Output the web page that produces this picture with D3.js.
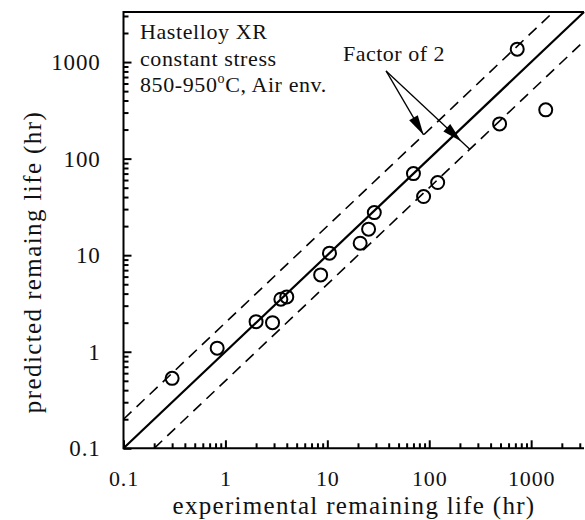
<!DOCTYPE html>
<html>
<head>
<meta charset="utf-8">
<script src="https://cdn.jsdelivr.net/npm/d3@7"></script>
<style>
  body { margin: 0; background: #fff; }
  svg text { font-family: "Liberation Serif", "DejaVu Serif", serif; fill: #111; }
</style>
</head>
<body>
<svg></svg>
<script>
// experimental vs predicted remaining life (hr)
const expLife  = [0.3, 0.83, 2.0, 2.9, 3.5, 4.0, 8.6, 10.5, 21, 25.4, 28.9, 70, 88, 121, 490, 730, 1390]
const predLife = [0.53, 1.09, 2.05, 2.0, 3.5, 3.7, 6.25, 10.5, 13.3, 18.6, 27.6, 70, 40.5, 56.5, 229, 1360, 320]
const majorTicks = [0.1, 1, 10, 100, 1000]
const tickLabels = ["0.1", "1", "10", "100", "1000"]
const domain = [0.1, 3300]
const noteLines = ["Hastelloy XR", "constant stress", "850-950", "C, Air env."]
// factor-of-2 arrows: start point and the two end points (data coords)
const arrowStart = [37.7, 810]
const arrowEnds = [[88, 176], [250, 125]]

const svg = d3.select("svg")
  .attr("width", 585)
  .attr("height", 520)

const x = d3.scaleLog().domain(domain).range([123.5, 584])
const y = d3.scaleLog().domain(domain).range([448.3, 12])

const minor = x.ticks().filter(d => !majorTicks.includes(d))

// minor ticks
svg.append("g")
  .attr("transform", "translate(0, 448.3)")
  .call(d3.axisBottom(x).tickValues(minor).tickSize(-5).tickFormat(""))
svg.append("g")
  .attr("transform", "translate(123.5, 0)")
  .call(d3.axisLeft(y).tickValues(minor).tickSize(-5).tickFormat(""))

const xAxis = svg.append("g")
  .attr("transform", "translate(0, 448.3)")
  .call(d3.axisBottom(x).tickValues(majorTicks).tickSize(-8).tickPadding(22.5)
    .tickFormat((d, i) => tickLabels[i]))
const yAxis = svg.append("g")
  .attr("transform", "translate(123.5, 0)")
  .call(d3.axisLeft(y).tickValues(majorTicks).tickSize(-8).tickPadding(23)
    .tickFormat((d, i) => tickLabels[i]))

svg.selectAll(".domain").remove()
svg.selectAll(".tick line").attr("stroke", "#000").attr("stroke-width", 2)
svg.selectAll(".tick text").attr("font-family", null).attr("fill", "#111")
  .attr("letter-spacing", 0.8)
xAxis.selectAll(".tick text").attr("font-size", 22)
yAxis.selectAll(".tick text").attr("font-size", 23)

// frame: left, bottom, top
svg.append("path")
  .attr("d", `M584,${y.range()[1]}H${x.range()[0]}V${y.range()[0]}H584`)
  .attr("fill", "none")
  .attr("stroke", "#000")
  .attr("stroke-width", 2)

const line = d3.line().x(d => x(d[0])).y(d => y(d[1]))

svg.append("path")
  .attr("d", line([[domain[0], domain[0]], [domain[1], domain[1]]]))
  .attr("stroke", "#000").attr("stroke-width", 2.2).attr("fill", "none")

svg.append("path")
  .attr("d", line([[domain[0], domain[0] * 2], [domain[1] / 2, domain[1]]]))
  .attr("stroke", "#000").attr("stroke-width", 1.6).attr("fill", "none")
  .attr("stroke-dasharray", "11,7")

svg.append("path")
  .attr("d", line([[domain[0] * 2, domain[0]], [domain[1], domain[1] / 2]]))
  .attr("stroke", "#000").attr("stroke-width", 1.6).attr("fill", "none")
  .attr("stroke-dasharray", "11,7")

svg.append("g")
  .selectAll("circle")
  .data(expLife)
  .enter()
  .append("circle")
  .attr("cx", d => x(d))
  .attr("cy", (d, i) => y(predLife[i]))
  .attr("r", 6.5)
  .attr("fill", "none")
  .attr("stroke", "#000")
  .attr("stroke-width", 2)

// arrows
const sx = x(arrowStart[0]), sy = y(arrowStart[1])
const heads = [1.0, 0.9]
arrowEnds.forEach((e, i) => {
  const ex = x(e[0]), ey = y(e[1])
  svg.append("line")
    .attr("x1", sx).attr("y1", sy).attr("x2", ex).attr("y2", ey)
    .attr("stroke", "#000").attr("stroke-width", 1.3)
  const tx = sx + (ex - sx) * heads[i], ty = sy + (ey - sy) * heads[i]
  const len = Math.hypot(ex - sx, ey - sy)
  const ux = (ex - sx) / len, uy = (ey - sy) / len
  const bx = tx - ux * 20, by = ty - uy * 20
  svg.append("path")
    .attr("d", `M${tx},${ty}L${bx - uy * 5},${by + ux * 5}L${bx + uy * 5},${by - ux * 5}Z`)
    .attr("fill", "#000")
})

svg.append("text")
  .attr("x", 394).attr("y", 61)
  .attr("text-anchor", "middle")
  .attr("font-size", 22)
  .attr("letter-spacing", 0.5)
  .text("Factor of 2")

const note = svg.append("g").attr("font-size", 22).attr("letter-spacing", 0.6)
note.append("text").attr("x", 140).attr("y", 39).text(noteLines[0])
note.append("text").attr("x", 140).attr("y", 65.5).text(noteLines[1])
const t3 = note.append("text").attr("x", 140).attr("y", 92)
t3.append("tspan").text(noteLines[2])
t3.append("tspan").attr("font-size", 14).attr("dy", -9).text("o")
t3.append("tspan").attr("dy", 9).text(noteLines[3])

svg.append("text")
  .attr("x", 354).attr("y", 514)
  .attr("text-anchor", "middle")
  .attr("font-size", 25)
  .attr("letter-spacing", 1.3)
  .text("experimental remaining life (hr)")

svg.append("text")
  .attr("transform", "translate(41, 262) rotate(-90)")
  .attr("text-anchor", "middle")
  .attr("font-size", 25)
  .attr("letter-spacing", 1.4)
  .text("predicted remaing life (hr)")
</script>
</body>
</html>
